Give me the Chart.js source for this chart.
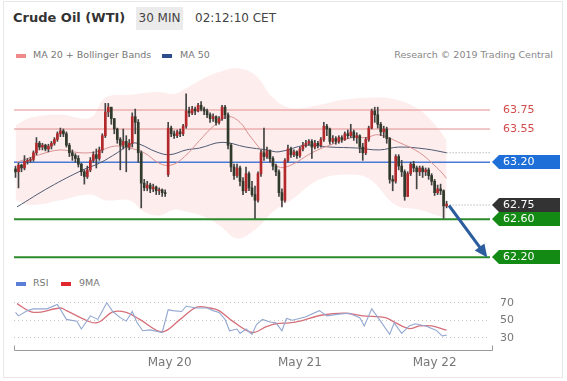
<!DOCTYPE html>
<html>
<head>
<meta charset="utf-8">
<script src="https://cdn.jsdelivr.net/npm/chart.js@4.4.1/dist/chart.umd.min.js"></script>
<style>
  body { margin: 0; width: 567px; height: 381px; background: #fff; position: relative; overflow: hidden;
         font-family: "DejaVu Sans", Verdana, sans-serif; }
  #card { position: absolute; left: 3px; top: 1px; width: 558px; height: 375px; border: 1px solid #e8e8e8; }
  .abs { position: absolute; white-space: nowrap; }
  .sw { position: absolute; width: 10px; height: 4px; }
  canvas { position: absolute; left: 0; }
</style>
</head>
<body>
<div id="card"></div>
<div class="abs" style="left:13px;top:10px;font-weight:bold;font-size:13px;color:#333;">Crude Oil (WTI)</div>
<div class="abs" style="left:136px;top:7px;width:47px;height:23px;line-height:23px;background:#ebebeb;text-align:center;font-size:12px;color:#444;">30 MIN</div>
<div class="abs" style="left:195px;top:11px;font-size:12px;color:#444;">02:12:10 CET</div>

<div class="sw" style="left:16px;top:54px;background:#f08a8a;"></div>
<div class="abs" style="left:33px;top:49px;font-size:9.5px;color:#777;">MA 20 + Bollinger Bands</div>
<div class="sw" style="left:162px;top:54px;background:#2d4e8c;"></div>
<div class="abs" style="left:180px;top:49px;font-size:9.5px;color:#777;">MA 50</div>
<div class="abs" style="right:14px;top:49px;font-size:9.5px;color:#888;">Research © 2019 Trading Central</div>

<div class="sw" style="left:16px;top:282px;background:#5b7fd6;"></div>
<div class="abs" style="left:33px;top:277px;font-size:9.5px;color:#777;">RSI</div>
<div class="sw" style="left:61px;top:282px;background:#e0282c;"></div>
<div class="abs" style="left:79px;top:277px;font-size:9.5px;color:#777;">9MA</div>

<canvas id="priceChart" width="567" height="272" style="top:0;"></canvas>
<canvas id="rsiChart" width="567" height="109" style="top:272px;"></canvas>

<script>
/* ---------- candles (30 min) ---------- */
const opens = [
  63.13,63.10,63.17,63.14,63.21,63.22,63.23,63.30,63.40,63.36,
  63.38,63.34,63.37,63.40,63.44,63.50,63.53,63.50,63.38,63.30,
  63.27,63.24,63.18,63.10,63.05,63.12,63.22,63.28,63.24,63.33,
  63.48,63.73,63.78,63.66,63.55,63.44,63.38,63.42,63.36,63.40,
  63.68,63.62,63.30,62.98,62.93,62.96,62.92,62.94,62.90,62.91,
  62.88,63.07,63.56,63.50,63.48,63.52,63.50,63.58,63.74,63.72,
  63.76,63.74,63.80,63.76,63.74,63.70,63.66,63.68,63.62,63.66,
  63.78,63.70,63.38,63.15,63.06,63.14,63.00,62.90,63.08,62.93,
  62.86,62.80,63.08,63.30,63.26,63.32,63.24,63.16,63.10,62.88,
  62.80,63.22,63.34,63.28,63.31,63.27,63.34,63.38,63.40,63.42,
  63.36,63.40,63.38,63.44,63.58,63.55,63.42,63.45,63.42,63.46,
  63.44,63.50,63.48,63.52,63.46,63.48,63.36,63.30,63.44,63.56,
  63.74,63.70,63.60,63.52,63.55,63.45,63.02,63.00,63.26,63.16,
  63.10,62.84,63.08,63.18,63.14,63.10,63.14,63.10,63.12,63.06,
  63.00,62.88,62.92,62.90,62.74
];
const closes = [
  63.10,63.17,63.14,63.21,63.22,63.23,63.30,63.40,63.36,63.38,
  63.34,63.37,63.40,63.44,63.50,63.53,63.50,63.38,63.30,63.27,
  63.24,63.18,63.10,63.05,63.12,63.22,63.28,63.24,63.33,63.48,
  63.73,63.78,63.66,63.55,63.44,63.38,63.42,63.36,63.40,63.68,
  63.62,63.30,62.98,62.93,62.96,62.92,62.94,62.90,62.91,62.88,
  62.87,63.56,63.50,63.48,63.52,63.50,63.58,63.74,63.72,63.76,
  63.74,63.80,63.76,63.74,63.70,63.66,63.68,63.62,63.66,63.78,
  63.70,63.38,63.15,63.06,63.14,63.00,62.90,63.08,62.93,62.86,
  62.80,63.08,63.30,63.26,63.32,63.24,63.16,63.10,62.88,62.80,
  63.22,63.34,63.28,63.31,63.27,63.34,63.38,63.40,63.42,63.36,
  63.40,63.38,63.44,63.58,63.55,63.42,63.45,63.42,63.46,63.44,
  63.50,63.48,63.52,63.46,63.48,63.36,63.30,63.44,63.56,63.74,
  63.70,63.60,63.52,63.55,63.45,63.02,63.00,63.26,63.16,63.10,
  62.84,63.08,63.18,63.14,63.10,63.14,63.10,63.12,63.06,63.00,
  62.88,62.92,62.90,62.74,62.76
];
const highs = [
  63.16,63.19,63.18,63.27,63.24,63.25,63.32,63.46,63.42,63.40,
  63.39,63.39,63.42,63.46,63.52,63.56,63.55,63.52,63.40,63.33,
  63.29,63.27,63.19,63.12,63.16,63.25,63.31,63.34,63.36,63.50,
  63.82,63.82,63.78,63.66,63.56,63.46,63.55,63.48,63.44,63.72,
  63.76,63.65,63.32,63.02,63.00,62.98,62.97,62.95,62.93,62.92,
  62.91,63.62,63.58,63.53,63.54,63.55,63.60,63.92,63.78,63.79,
  63.78,63.82,63.84,63.78,63.76,63.72,63.71,63.69,63.68,63.80,
  63.80,63.72,63.40,63.18,63.18,63.16,63.04,63.15,63.10,63.00,
  62.95,63.10,63.33,63.56,63.36,63.33,63.26,63.18,63.12,62.92,
  63.24,63.38,63.36,63.33,63.32,63.36,63.41,63.43,63.44,63.44,
  63.43,63.42,63.46,63.62,63.60,63.56,63.48,63.47,63.48,63.48,
  63.52,63.54,63.60,63.54,63.51,63.49,63.40,63.46,63.58,63.76,
  63.78,63.78,63.62,63.58,63.57,63.46,63.06,63.28,63.28,63.22,
  63.12,63.10,63.20,63.21,63.16,63.16,63.16,63.14,63.14,63.08,
  63.02,62.96,62.97,62.91,62.79
];
const lows = [
  63.04,62.93,63.10,63.12,63.18,63.20,63.21,63.28,63.33,63.33,
  63.32,63.31,63.34,63.38,63.42,63.47,63.47,63.36,63.26,63.22,
  63.20,63.15,63.06,62.97,63.03,63.10,63.20,63.14,63.22,63.30,
  63.46,63.68,63.60,63.50,63.40,63.12,63.34,63.10,63.33,63.36,
  63.50,63.20,62.72,62.90,62.90,62.88,62.89,62.86,62.86,62.84,
  62.84,63.05,63.47,63.45,63.46,63.47,63.48,63.56,63.68,63.70,
  63.70,63.73,63.74,63.70,63.67,63.62,63.63,63.59,63.60,63.64,
  63.66,63.34,63.10,63.02,63.04,62.95,62.86,62.88,62.90,62.84,
  62.61,62.78,63.05,63.22,63.24,63.20,63.12,63.06,62.84,62.73,
  62.78,63.20,63.25,63.26,63.24,63.25,63.32,63.36,63.38,63.24,
  63.34,63.35,63.36,63.42,63.48,63.39,63.40,63.39,63.40,63.41,
  63.43,63.45,63.46,63.43,63.40,63.30,63.22,63.28,63.42,63.55,
  63.62,63.56,63.48,63.46,63.40,62.98,62.90,62.98,63.12,63.05,
  62.80,62.84,63.06,63.10,62.92,63.06,63.04,63.06,63.02,62.96,
  62.85,62.86,62.86,62.61,62.72
];

/* ---------- indicators (x = candle index) ---------- */
const bandX     = [0,5,15,25,30,38,43,48,53,57,62,68,74,80,86,92,101,110,118,127,135,141,144];
const bandUpper = [63.59,63.67,63.70,63.67,63.88,63.91,63.93,63.94,63.92,63.98,64.07,64.15,64.19,64.12,63.88,63.77,63.80,63.86,63.88,63.86,63.75,63.56,63.43];
const bandLower = [62.80,62.75,62.80,62.86,62.80,62.80,62.68,62.64,62.70,62.68,62.64,62.54,62.40,62.49,62.68,62.80,63.01,63.07,63.03,62.75,62.70,62.64,62.61];

const ma20X = [0.5,8,15,21.5,27,33,38,43,48,52,56.5,61.5,66.5,71,75,78,84,88,92,99,105,112.5,117,121.5,128,135,141.5,144];
const ma20Y = [63.20,63.28,63.33,63.30,63.31,63.37,63.35,63.30,63.19,63.17,63.26,63.43,63.59,63.68,63.62,63.49,63.26,63.15,63.17,63.30,63.38,63.46,63.46,63.49,63.41,63.30,63.12,63.03];

const ma50X = [0.5,11.5,22.5,28,34,39,41.5,47,51.5,57,61.5,69,77,84,88,97,105,114,121.5,128,137,144];
const ma50Y = [62.73,62.94,63.12,63.19,63.30,63.40,63.39,63.31,63.28,63.33,63.35,63.41,63.36,63.33,63.31,63.38,63.36,63.35,63.33,63.36,63.34,63.30];

const rsiX = [0,1,4,6,10.5,14,17,20.5,22,25,27.5,30.5,32.5,35,37,39,40.5,42.5,45,49,51,52.5,55.5,57,60.5,64,66,68,70,71.5,74,75,77,79,80.5,82.5,85,87,89,90.5,92.5,97,101.5,104,108,111.5,115,116.5,119,121.5,125,126.5,129,131.5,133.5,137,140.5,142.5,144];
const rsiY = [59,55,61,63,63,68,51,49,40,55,51,70,60,53,49,60,48,38,39,36,62,61,60,66,64,64,61,59,51,38,40,35,40,34,45,51,48,47,38,52,50,54,61,55,57,58,53,43.5,63,51,34,47,35,43.5,46,43.5,38.6,32,33];
const rsiMaX = [0.5,6,15,17,25,28,32.5,37,41.5,49,55,60.5,65,68,72.5,79,84,87,91.5,95,102.5,110.5,116,123.5,127,131.5,135,139,144];
const rsiMaY = [69,59,64,61,48,48,59.5,59,51,36.6,51,65,64,61,49,36,43,46,47,49,56,58,55,53,47,40.5,43.5,43.5,38.6];

/* ---------- levels / axis labels ---------- */
const levelValues = [63.75, 63.55, 63.20, 62.75, 62.60, 62.20];
const levelColors = ['#e58f8f', '#e58f8f', '#4a7bd4', null, '#2b8a2b', '#2b8a2b'];
const levelTags   = [null, null, '#1f6fd8', '#333333', '#138a13', '#138a13'];
const rsiTicks = [30, 50, 70];
const dateTicks = [51.5, 95, 140];
const dateLabels = ['May 20', 'May 21', 'May 22'];

Chart.defaults.font.family = '"DejaVu Sans", Verdana, sans-serif';

const pts = (xs, ys) => xs.map((x, i) => ({ x, y: ys[i] }));
const lastIdx = closes.length - 1;
const xMin = -0.5, xMax = 158.5;

const wickData = opens.map((o, i) => ({ x: i, y: [lows[i], highs[i]] }));
const bodyData = opens.map((o, i) => ({ x: i, y: [o, closes[i]] }));
const bodyColors = opens.map((o, i) => closes[i] >= o ? '#b3282b' : '#2f3a2b');

const levelSets = levelValues.map((v, k) => {
  const dotted = levelColors[k] === null;
  return {
    type: 'line',
    data: dotted ? [{ x: lastIdx + 1, y: v }, { x: xMax, y: v }] : [{ x: xMin, y: v }, { x: xMax, y: v }],
    borderColor: dotted ? '#999' : levelColors[k],
    borderWidth: dotted ? 1 : (k >= 4 ? 2 : (k === 2 ? 1.5 : 1)),
    borderDash: dotted ? [1, 2] : [],
    pointRadius: 0,
    order: 5,
  };
});

/* ---------- labels on the right + arrow head ---------- */
const tagPlugin = {
  id: 'tags',
  afterDatasetsDraw(chart) {
    const { ctx, chartArea, scales: { y } } = chart;
    ctx.save();
    ctx.font = '11px "DejaVu Sans"';
    ctx.textBaseline = 'middle';
    levelValues.forEach((v, k) => {
      const py = Math.round(y.getPixelForValue(v));
      const left = chartArea.right + 2;
      if (levelTags[k]) {
        ctx.fillStyle = levelTags[k];
        ctx.beginPath();
        ctx.moveTo(left, py);
        ctx.lineTo(left + 7, py - 7);
        ctx.lineTo(560, py - 7);
        ctx.lineTo(560, py + 7);
        ctx.lineTo(left + 7, py + 7);
        ctx.closePath();
        ctx.fill();
        ctx.fillStyle = '#fff';
      } else {
        ctx.fillStyle = '#d24b4b';
      }
      ctx.fillText(v.toFixed(2), left + 11, py + 0.5);
    });
    // arrow head
    const meta = chart.getDatasetMeta(chart.data.datasets.length - 1);
    const p0 = meta.data[0], p1 = meta.data[1];
    const ang = Math.atan2(p1.y - p0.y, p1.x - p0.x);
    const tx = p1.x + Math.cos(ang) * 5, ty = p1.y + Math.sin(ang) * 5;
    ctx.fillStyle = '#2b5d9e';
    ctx.beginPath();
    ctx.moveTo(tx, ty);
    ctx.lineTo(tx - 13 * Math.cos(ang) + 6 * Math.sin(ang), ty - 13 * Math.sin(ang) - 6 * Math.cos(ang));
    ctx.lineTo(tx - 13 * Math.cos(ang) - 6 * Math.sin(ang), ty - 13 * Math.sin(ang) + 6 * Math.cos(ang));
    ctx.closePath();
    ctx.fill();
    ctx.restore();
  }
};

new Chart(document.getElementById('priceChart'), {
  type: 'line',
  data: {
    datasets: [
      { type: 'line', data: pts(bandX, bandUpper), borderColor: 'transparent', pointRadius: 0, tension: 0.4, fill: false, order: 10 },
      { type: 'line', data: pts(bandX, bandLower), borderColor: 'transparent', pointRadius: 0, tension: 0.4,
        fill: '-1', backgroundColor: 'rgba(244,150,150,0.17)', order: 10 },
      ...levelSets,
      { type: 'line', data: pts(ma20X, ma20Y), borderColor: '#d99090', borderWidth: 1, pointRadius: 0, tension: 0.4, order: 3 },
      { type: 'line', data: pts(ma50X, ma50Y), borderColor: '#4f5a72', borderWidth: 1, pointRadius: 0, tension: 0.4, order: 3 },
      { type: 'line', data: [{ x: ma50X[ma50X.length - 1], y: ma50Y[ma50Y.length - 1] }, { x: xMax, y: ma50Y[ma50Y.length - 1] }],
        borderColor: '#999', borderWidth: 1, borderDash: [1, 2], pointRadius: 0, order: 3 },
      { type: 'bar', data: wickData, backgroundColor: '#444', barThickness: 1, grouped: false, order: 2 },
      { type: 'bar', data: bodyData, backgroundColor: bodyColors, barThickness: 2, grouped: false, minBarLength: 1, order: 1 },
      { type: 'line', data: [{ x: 144.8, y: 62.745 }, { x: 156.6, y: 62.24 }], borderColor: '#2b5d9e', borderWidth: 3,
        pointRadius: 0, order: 0 },
    ],
  },
  options: {
    responsive: false,
    animation: false,
    layout: { padding: { left: 14, right: 77, top: 65, bottom: 2 } },
    scales: {
      x: { type: 'linear', min: xMin, max: xMax, display: false, offset: false },
      y: { min: 62.066, max: 64.224, display: false },
    },
    plugins: { legend: { display: false }, tooltip: { enabled: false } },
  },
  plugins: [tagPlugin],
});

/* ---------- RSI panel ---------- */
const axisPlugin = {
  id: 'bracket',
  afterDraw(chart) {
    const { ctx, chartArea } = chart;
    const yb = Math.round(chartArea.bottom) + 0.5;
    ctx.save();
    ctx.strokeStyle = '#9a9a9a';
    ctx.lineWidth = 1;
    ctx.beginPath();
    ctx.moveTo(chartArea.left + 0.5, yb - 5);
    ctx.lineTo(chartArea.left + 0.5, yb);
    ctx.lineTo(chartArea.right + 2.5, yb);
    ctx.lineTo(chartArea.right + 2.5, yb - 5);
    ctx.stroke();
    ctx.restore();
  }
};

new Chart(document.getElementById('rsiChart'), {
  type: 'line',
  data: {
    datasets: [
      { data: pts(rsiX, rsiY), borderColor: '#93a7d0', borderWidth: 1.1, pointRadius: 0, tension: 0 },
      { data: pts(rsiMaX, rsiMaY), borderColor: '#d6707a', borderWidth: 1.3, pointRadius: 0, tension: 0.35 },
    ],
  },
  options: {
    responsive: false,
    animation: false,
    layout: { padding: { left: 14, right: 0, top: 22, bottom: 0 } },
    scales: {
      x: {
        type: 'linear', min: xMin, max: xMax,
        afterBuildTicks: (axis) => { axis.ticks = dateTicks.map(v => ({ value: v })); },
        afterFit: (axis) => { axis.height = 31; },
        ticks: { autoSkip: false, maxRotation: 0, padding: 6, color: '#777', font: { size: 12 },
                 callback: (v) => dateLabels[dateTicks.indexOf(v)] },
        grid: { display: false, drawTicks: false },
        border: { display: false },
      },
      y: {
        position: 'right', min: 16, max: 80,
        afterBuildTicks: (axis) => { axis.ticks = rsiTicks.map(v => ({ value: v })); },
        afterFit: (axis) => { axis.width = 77; },
        ticks: { padding: 10, color: '#777', font: { size: 11 } },
        grid: { color: '#c4c4c4', drawTicks: false },
        border: { display: false, dash: [1, 3] },
      },
    },
    plugins: { legend: { display: false }, tooltip: { enabled: false } },
  },
  plugins: [axisPlugin],
});
</script>
</body>
</html>
